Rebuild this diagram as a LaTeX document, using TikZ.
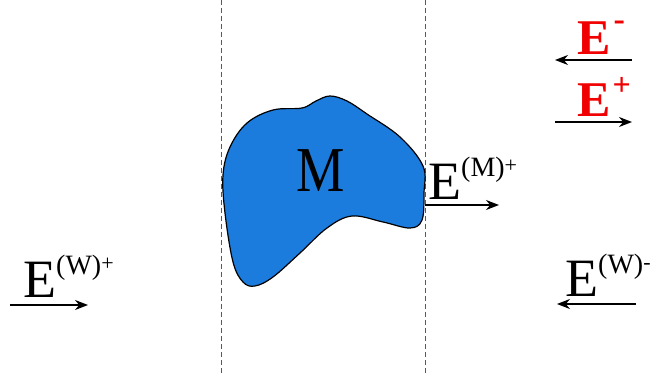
\documentclass[tikz,border=0pt]{standalone}
\usepackage{fontspec}
\setmainfont{Liberation Serif}
\usetikzlibrary{arrows.meta}
\definecolor{blobblue}{RGB}{28,124,222}
\definecolor{ered}{RGB}{240,0,0}
\definecolor{dashgray}{RGB}{90,90,90}
\tikzset{
  lbl/.style={inner sep=0pt, anchor=base west, font=\fontsize{54}{54}\selectfont},
  redlbl/.style={inner sep=0pt, anchor=base west, text=ered, font=\fontsize{50}{50}\selectfont\bfseries},
  wave/.style={line width=1.3pt, -{Stealth[length=13pt,width=10pt]}},
  bound/.style={dashgray, line width=0.9pt, dash pattern=on 5pt off 3pt},
}
\newcommand{\supx}[2]{\raisebox{23pt}{\fontsize{28}{28}\selectfont #1\raisebox{4pt}{\fontsize{22}{22}\selectfont #2}}}
\begin{document}
\begin{tikzpicture}[x=1pt,y=-1pt]
\useasboundingbox (0,0) rectangle (651,374);
% boundaries
\coordinate (l1) at (221,0); \coordinate (l2) at (221,374);
\coordinate (r1) at (425,0); \coordinate (r2) at (425,374);
\draw[bound] (l1) -- (l2);
\draw[bound] (r1) -- (r2);
% body M
\draw[fill=blobblue, line width=1.2pt] plot[smooth cycle, tension=0.6] coordinates {
 (423,166) (400,137) (367,114) (347,101) (330,96) (316,101) (302,108)
 (273,110) (247,123) (230,147) (223,175) (225,213) (233,262) (243,282)
 (255,286) (273,277) (300,253) (327,228) (352,216) (383,222) (410,228)
 (422,220) (424,193)};
\node[inner sep=0pt, anchor=base] (M) at (321,192) {\fontsize{64}{64}\selectfont\scalebox{0.85}[1]{M}};
% E^(M)+
\node[lbl] (EM) at (428,200) {E\supx{(M)}{+}};
\coordinate (em1) at (425,205); \coordinate (em2) at (499,205);
\draw[wave] (em1) -- (em2);
% E^(W)+
\node[lbl] (EWp) at (23,298) {E\supx{(W)}{+}};
\coordinate (wp1) at (10,305); \coordinate (wp2) at (88,305);
\draw[wave] (wp1) -- (wp2);
% E^(W)-
\node[lbl] (EWm) at (565,297) {E\supx{(W)}{-}};
\coordinate (wm1) at (636,304); \coordinate (wm2) at (557,304);
\draw[wave] (wm1) -- (wm2);
% red E-
\node[redlbl] (Em) at (577,55) {E\hspace{3pt}\raisebox{24pt}{\fontsize{34}{34}\selectfont -}};
\coordinate (rm1) at (632,60); \coordinate (rm2) at (555,60);
\draw[wave] (rm1) -- (rm2);
% red E+
\node[redlbl] (Ep) at (577,117) {E\hspace{2pt}\raisebox{21pt}{\fontsize{32}{32}\selectfont +}};
\coordinate (rp1) at (555,122); \coordinate (rp2) at (632,122);
\draw[wave] (rp1) -- (rp2);
\end{tikzpicture}
\end{document}
